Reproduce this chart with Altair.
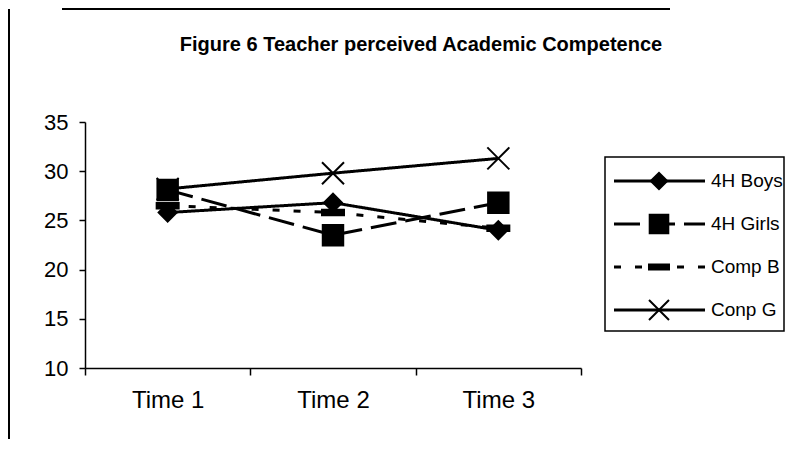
import altair as alt
import pandas as pd

# ---- data ----
times = ["Time 1", "Time 2", "Time 3"]
series = ["4H Boys", "4H Girls", "Comp B", "Conp G"]
boys = [25.8, 26.8, 24.0]
girls = [28.1, 23.5, 26.8]
comp_b = [26.5, 25.8, 24.2]
conp_g = [28.2, 29.8, 31.3]
y_ticks = [10, 15, 20, 25, 30, 35]
title_text = "Figure 6  Teacher perceived Academic Competence"

values = {"4H Boys": boys, "4H Girls": girls, "Comp B": comp_b, "Conp G": conp_g}
rows = [
    {"time": t, "series": s, "value": v}
    for s in series
    for t, v in zip(times, values[s])
]
df = pd.DataFrame(rows)
leg = pd.DataFrame({"series": series})
one = pd.DataFrame({"a": [0]})

FONT = "Liberation Sans"

# ---- styles ----
shape_paths = [
    "M-0.82,0L0,-0.82L0.82,0L0,0.82Z",
    "M-0.93,-0.93L0.93,-0.93L0.93,0.93L-0.93,0.93Z",
    "M-1,-0.25L1,-0.25L1,0.25L-1,0.25Z",
    "M-1,-1L1,1M1,-1L-1,1",
]
dashes = [[1, 0], [26, 9], [7, 14], [1, 0]]
widths = [3, 3, 3, 2.2]

shape_scale = alt.Scale(domain=series, range=shape_paths)
dash_scale = alt.Scale(domain=series, range=dashes)
sw_scale = alt.Scale(domain=series, range=widths)

x_enc = alt.X(
    "time:N",
    sort=times,
    bandPosition=0.5,
    scale=alt.Scale(type="band", paddingInner=0, paddingOuter=0),
    axis=alt.Axis(
        title=None, labelAngle=0, tickBand="extent", tickSize=7, labelPadding=13,
        labelFontSize=24, labelFont=FONT, labelColor="black",
        domainColor="black", tickColor="black", domainWidth=1.5, tickWidth=1.5,
    ),
)
y_enc = alt.Y(
    "value:Q",
    scale=alt.Scale(domain=[10, 35], nice=False, zero=False),
    axis=alt.Axis(
        values=y_ticks, title=None, grid=False, tickSize=6, labelPadding=11,
        labelFontSize=22, labelFont=FONT, labelColor="black",
        domainColor="black", tickColor="black", domainWidth=1.5, tickWidth=1.5,
    ),
)

base = alt.Chart(df)
lines = base.mark_line(color="black", strokeCap="butt").encode(
    x=x_enc, y=y_enc,
    strokeDash=alt.StrokeDash("series:N", scale=dash_scale, legend=None),
    strokeWidth=alt.StrokeWidth("series:N", scale=sw_scale, legend=None),
)
points = base.mark_point(fill="black", stroke="black", strokeWidth=2, opacity=1, fillOpacity=1).encode(
    x=x_enc, y=y_enc,
    shape=alt.Shape("series:N", scale=shape_scale, legend=None),
    size=alt.value(484),
)
main = alt.layer(lines, points)

# ---- legend built from the series list ----
ly = alt.Y("series:N", sort=series,
           scale=alt.Scale(type="point", domain=series, range=[59, 188], padding=0),
           axis=None)
lbase = alt.Chart(leg)
leg_rules = lbase.mark_rule(color="black", strokeCap="butt").encode(
    x=alt.value(529), x2=alt.value(620), y=ly,
    strokeDash=alt.StrokeDash("series:N", scale=dash_scale, legend=None),
    strokeWidth=alt.StrokeWidth("series:N", scale=sw_scale, legend=None),
)
leg_points = lbase.mark_point(fill="black", stroke="black", strokeWidth=2, opacity=1, fillOpacity=1).encode(
    x=alt.value(574), y=ly,
    shape=alt.Shape("series:N", scale=shape_scale, legend=None),
    size=alt.value(400),
)
leg_text = lbase.mark_text(align="left", baseline="middle", fontSize=19, font=FONT, color="black").encode(
    x=alt.value(626), y=ly, text="series:N",
)
legend = alt.layer(leg_rules, leg_points, leg_text)

# ---- decorations ----
ob = alt.Chart(one)
leg_box = ob.mark_rect(fill="transparent", stroke="black", strokeWidth=1.5).encode(
    x=alt.value(520), x2=alt.value(699), y=alt.value(35), y2=alt.value(209)
)
frame_left = ob.mark_rule(color="black", strokeWidth=2).encode(
    x=alt.value(-76), y=alt.value(-113), y2=alt.value(317)
)
frame_top = ob.mark_rule(color="black", strokeWidth=2).encode(
    x=alt.value(-23), x2=alt.value(585), y=alt.value(-113)
)
title = ob.mark_text(text=title_text, fontSize=20, fontWeight="bold", font=FONT,
                     align="center", baseline="middle", color="black").encode(
    x=alt.value(336), y=alt.value(-77)
)

chart = (
    alt.layer(main, legend, leg_box, frame_left, frame_top, title)
    .resolve_scale(y="independent")
    .properties(width=496, height=246, padding=0, background="white")
    .configure_view(stroke=None)
)

chart.save("out.html", embed_options={"renderer": "svg", "actions": False})
